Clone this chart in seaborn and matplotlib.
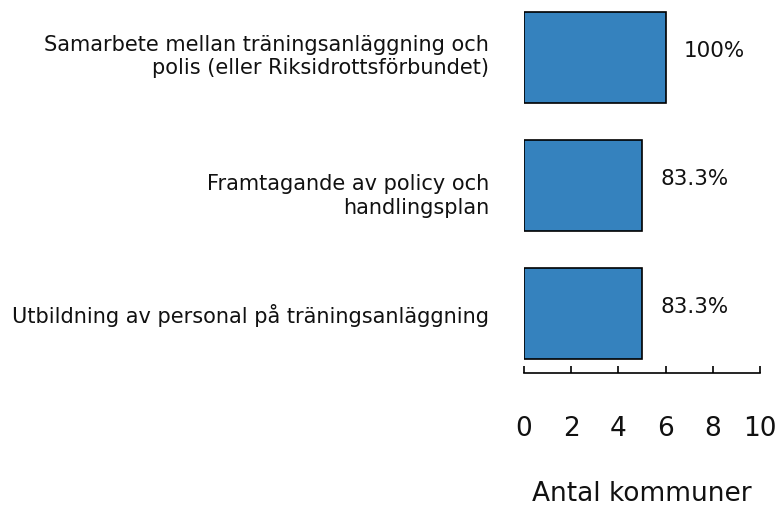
import matplotlib
matplotlib.use("Agg")
import matplotlib.pyplot as plt
import matplotlib.transforms as mtransforms
import seaborn as sns
import pandas as pd

categories = [
    "Samarbete mellan träningsanläggning och\npolis (eller Riksidrottsförbundet)",
    "Framtagande av policy och\nhandlingsplan",
    "Utbildning av personal på träningsanläggning",
]
counts = [6, 5, 5]
percent_labels = ["100%", "83.3%", "83.3%"]
x_ticks = [0, 2, 4, 6, 8, 10]

sns.set_theme(style="white")
plt.rcParams["font.family"] = ["DejaVu Sans"]
plt.rcParams["text.color"] = "#111111"
plt.rcParams["xtick.color"] = "#111111"
plt.rcParams["ytick.color"] = "#111111"
plt.rcParams["axes.labelcolor"] = "#111111"

df = pd.DataFrame({"Åtgärd": categories, "Antal": counts})

fig = plt.figure(figsize=(7.78, 5.09), dpi=100)
ax = fig.add_axes([524 / 778, 1 - 373 / 509, (760 - 524) / 778, 373 / 509])

sns.barplot(data=df, x="Antal", y="Åtgärd", orient="h", color="#3582BE",
            saturation=1, width=0.71, edgecolor="black", linewidth=1.2, ax=ax)

ax.set_xlim(0, 10)
ax.set_ylim(2.465, -0.45)
ax.set_xticks(x_ticks)
ax.set_xticklabels([str(t) for t in x_ticks], fontsize=19)
ax.tick_params(axis="x", direction="in", length=5, width=1.2, color="black",
               pad=31, bottom=True)
ax.tick_params(axis="y", length=0, pad=25, labelsize=15)

# small vertical nudges for the wrapped category labels (points)
label_shift = [3.5, -5.0, 0.0]
for lbl, dy in zip(ax.get_yticklabels(), label_shift):
    lbl.set_multialignment("right")
    lbl.set_transform(lbl.get_transform() +
                      mtransforms.ScaledTranslation(0, dy / 72, fig.dpi_scale_trans))

for s in ["top", "right", "left"]:
    ax.spines[s].set_visible(False)
ax.spines["bottom"].set_color("black")
ax.spines["bottom"].set_linewidth(1.2)

ax.set_ylabel("")
ax.set_xlabel("Antal kommuner", fontsize=19, labelpad=28)

for i, (v, txt) in enumerate(zip(counts, percent_labels)):
    ax.annotate(txt, xy=(v, i), xytext=(13, 4.5), textcoords="offset points",
                ha="left", va="center", fontsize=15.5)

fig.savefig("out.png", dpi=100)
